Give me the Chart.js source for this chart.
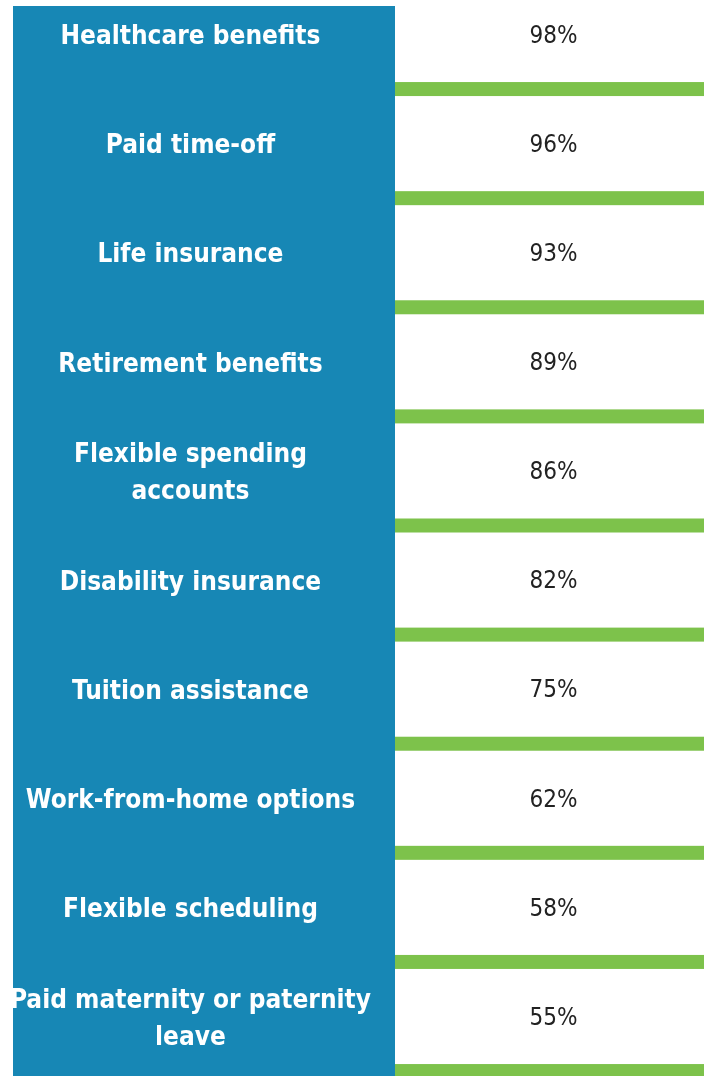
<!DOCTYPE html>
<html>
<head>
<meta charset="utf-8">
<script src="https://cdn.jsdelivr.net/npm/chart.js@4/dist/chart.umd.min.js"></script>
<style>
html,body{margin:0;padding:0;background:#fff;}
#wrap{width:704px;height:1076px;position:relative;}
</style>
</head>
<body>
<div id="wrap"><canvas id="c" width="704" height="1076"></canvas></div>
<script>
const categories = [
  "Healthcare benefits",
  "Paid time-off",
  "Life insurance",
  "Retirement benefits",
  ["Flexible spending", "accounts"],
  "Disability insurance",
  "Tuition assistance",
  "Work-from-home options",
  "Flexible scheduling",
  ["Paid maternity or paternity", "leave"]
];
const values = [98, 96, 93, 89, 86, 82, 75, 62, 58, 55];
const valueLabels = values.map(v => v + "%");

const BLUE = "#1787b5";
const GREEN = "#7dc24b";
const LABEL_FONT = '"Liberation Sans Narrow", "DejaVu Sans Condensed", "Arial Narrow", sans-serif';

const panelPlugin = {
  id: "panel",
  beforeDraw(chart) {
    const ctx = chart.ctx;
    const y = chart.scales.y;
    ctx.save();
    ctx.fillStyle = BLUE;
    ctx.fillRect(y.left, 6, y.right - y.left, chart.height - 6);
    ctx.restore();
  },
  afterDraw(chart) {
    const ctx = chart.ctx;
    const y = chart.scales.y;
    const area = chart.chartArea;
    const n = categories.length;
    ctx.save();
    // green separators between rows
    ctx.fillStyle = GREEN;
    for (let i = 0; i < n; i++) {
      const c = y.getPixelForValue(i);
      const next = i < n - 1 ? y.getPixelForValue(i + 1) : c + (c - y.getPixelForValue(i - 1));
      const mid = (c + next) / 2;
      ctx.fillRect(area.left, mid - 7, chart.width - area.left, 14);
    }
    // value labels
    ctx.fillStyle = "#222";
    ctx.font = '24px ' + LABEL_FONT;
    ctx.textAlign = "center";
    ctx.textBaseline = "middle";
    const cx = (area.left + area.right) / 2 + 4;
    for (let i = 0; i < n; i++) {
      ctx.fillText(valueLabels[i], cx, y.getPixelForValue(i) + 2);
    }
    ctx.restore();
  }
};

new Chart(document.getElementById("c"), {
  type: "bar",
  data: {
    labels: categories,
    datasets: [{
      data: values,
      backgroundColor: "rgba(0,0,0,0)",
      borderWidth: 0
    }]
  },
  options: {
    indexAxis: "y",
    responsive: false,
    animation: false,
    devicePixelRatio: 1,
    layout: { padding: { left: 13, right: 0, top: 34.5, bottom: 59.5 } },
    plugins: { legend: { display: false }, tooltip: { enabled: false } },
    scales: {
      x: { display: false, min: 0, max: 100 },
      y: {
        offset: false,
        grid: { display: false, drawTicks: false },
        border: { display: false },
        afterFit(scale) {
          scale.width = 382;
          scale.paddingTop = 0;
          scale.paddingBottom = 0;
        },
        ticks: {
          crossAlign: "center",
          padding: 24,
          labelOffset: 3,
          color: "#ffffff",
          font: { family: LABEL_FONT, size: 26, weight: "bold", lineHeight: 1.42 }
        }
      }
    }
  },
  plugins: [panelPlugin]
});
</script>
</body>
</html>
